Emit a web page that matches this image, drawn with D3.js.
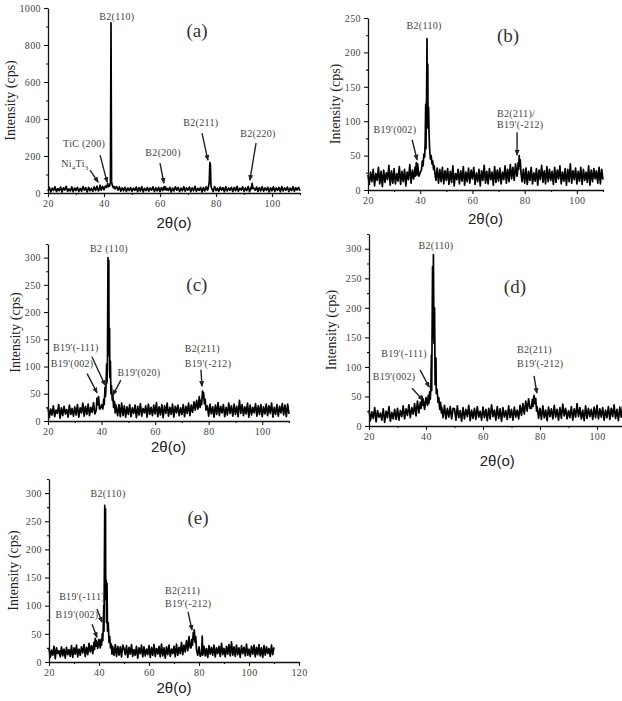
<!DOCTYPE html>
<html>
<head>
<meta charset="utf-8">
<script src="https://cdn.jsdelivr.net/npm/d3@7"></script>
<style>
  body { margin: 0; background: #fff; }
  .domain { stroke: #111; stroke-width: 1.3; }
  .tick line { stroke: #111; stroke-width: 1.1; }
  .note { font-family: "Liberation Serif", serif; font-size: 10px; fill: #444; letter-spacing: 0.3px; }
  .letter { font-family: "Liberation Serif", serif; font-size: 19px; fill: #333; }
  .ytitle { font-family: "Liberation Serif", serif; font-size: 14px; fill: #222; }
  .xtitle { font-family: "Liberation Sans", sans-serif; font-size: 15px; fill: #222; }
</style>
</head>
<body>
<svg id="chart" width="622" height="701"></svg>
<script>
"use strict";

// Sampling grid of the scans: 20 to 110 degrees, every 0.5 degree
var gridStart = 20, gridStep = 0.5;

// Tick labels
var xTicks = [20, 40, 60, 80, 100];
var xMinor = [30, 50, 70, 90, 110];
var xTicksE = [20, 40, 60, 80, 100, 120];
var xMinorE = [30, 50, 70, 90, 110];
var yTicksA = [0, 200, 400, 600, 800, 1000];
var yMinorA = [100, 300, 500, 700, 900];
var yTicksB = [0, 50, 100, 150, 200, 250];
var yMinorB = [25, 75, 125, 175, 225];
var yTicksC = [0, 50, 100, 150, 200, 250, 300];
var yMinorC = [25, 75, 125, 175, 225, 275, 325];

// Background counts (cps), one value per grid step
var noiseA = [
  10,30,6,26,14,34,8,24,12,32,5,28,16,36,9,22,11,33,7,27,
  13,31,8,25,10,35,15,29,6,30,12,26,9,33,14,37,11,28,16,36,
  18,38,14,34,20,40,17,36,22,35,15,33,10,28,12,31,8,27,13,30,
  9,26,14,32,7,29,11,34,6,25,13,30,10,27,15,33,8,28,12,31,
  7,29,13,35,9,24,14,31,6,27,11,33,16,30,8,26,12,34,10,28,
  15,32,7,28,12,36,9,25,14,30,6,29,11,33,16,27,10,31,8,35,
  13,26,9,32,15,29,7,34,11,27,14,31,8,30,12,36,10,25,16,33,
  9,28,13,35,7,30,11,26,15,32,8,29,12,34,10,27,14,31,6,28,
  12,33,9,27,14,30,7,35,11,28,15,32,8,26,13,34,10,29,16,31,
  12
];
var noiseB = [
  22,8,26,12,30,6,24,14,33,9,27,5,29,11,25,15,36,7,28,10,
  31,9,24,13,34,8,27,12,30,6,26,15,37,10,29,16,33,12,38,20,
  25,38,30,44,35,55,50,80,120,200,180,28,14,32,10,30,12,33,9,28,
  14,31,8,27,11,35,6,24,15,30,9,28,13,34,7,26,12,32,10,29,
  16,33,8,25,12,30,6,28,14,36,10,27,9,31,15,26,7,34,11,29,
  13,32,9,26,15,35,10,30,12,37,16,33,14,38,20,36,18,34,12,30,
  10,32,8,27,14,33,9,25,13,31,7,29,15,36,11,28,9,34,12,30,
  14,27,8,33,11,29,16,35,9,26,13,31,7,30,12,38,10,28,15,32,
  9,27,13,33,8,30,14,26,11,35,7,29,12,31,16,28,10,33,9,30,
  15
];
var noiseC = [
  25,6,22,11,28,8,20,14,30,5,24,10,27,13,21,7,29,12,23,9,
  26,11,30,7,24,15,33,9,27,12,31,10,25,16,34,13,28,18,36,22,
  30,20,36,25,45,40,60,100,300,160,80,26,10,30,8,33,10,28,7,26,
  12,30,8,24,14,29,6,27,11,32,9,23,15,28,7,31,12,25,10,29,
  13,34,8,26,11,30,6,28,14,33,9,25,12,31,7,27,15,29,10,24,
  12,30,8,27,14,33,10,29,16,35,20,38,22,45,25,40,18,32,11,28,
  9,31,13,26,7,29,12,34,10,27,15,30,8,25,11,33,14,28,9,31,
  12,27,8,38,14,30,10,26,13,33,7,29,11,25,15,32,9,28,12,30,
  8,26,13,31,10,28,14,33,7,25,12,30,9,27,15,32,11,29,8,31,
  13
];
var noiseD = [
  27,9,24,13,31,7,26,15,22,10,29,6,25,14,33,8,23,12,28,11,
  30,10,26,16,34,12,29,18,36,14,31,20,38,17,42,22,40,25,46,28,
  48,30,55,38,60,80,120,270,290,200,115,32,14,35,12,30,15,33,12,30,
  29,10,34,14,26,8,31,12,28,16,35,9,27,13,30,11,33,15,25,10,
  32,14,28,9,30,12,36,16,27,10,33,13,29,8,31,15,26,11,34,14,
  28,10,32,15,27,12,35,18,38,20,42,25,46,30,40,22,36,17,33,13,
  30,11,34,14,27,9,32,16,29,12,35,15,28,10,31,13,37,17,30,12,
  26,14,33,10,29,15,38,16,31,12,27,9,34,13,30,16,28,11,32,14,
  35,12,29,15,31,10,27,14,33,11,30,16,36,13,28,9,32,15,34,12,
  29
];
var noiseE = [
  24,8,21,12,28,6,25,15,20,9,27,11,23,7,26,13,22,10,29,8,
  25,14,30,9,23,12,27,16,31,10,26,13,33,18,29,15,35,20,38,24,
  40,25,45,35,50,70,278,145,140,60,70,26,12,31,10,28,12,27,9,30,
  24,13,29,8,26,14,31,10,22,12,28,7,25,15,30,9,27,11,23,13,
  29,8,26,12,31,10,24,14,28,9,32,11,25,7,27,13,30,10,23,15,
  28,9,32,12,26,15,35,13,30,18,38,20,45,25,42,22,36,16,30,12,
  27,10,31,13,28,11,24,8,29,14,26,12,30,9,25,15,28,10,33,13,
  24,9,28,14,31,11,36,12,27,10,30,13,25,8,29,15,26,11,32,12,
  23,10,28,14,30,9,26,13,31,11,25,8,29,12,27,15,24,10,30,13,
  26
];

// Peak regions, [2theta, cps], finer than the grid
var peaksA = [
  [[38.3,20],[38.6,42],[38.9,18]],
  [[41.0,30],[41.3,52],[41.6,35],[42.0,38],[42.3,60],[42.5,920],[42.7,60],[43.0,40],[43.4,28]],
  [[61.7,18],[62.0,32],[62.3,16]],
  [[77.2,25],[77.6,60],[77.8,165],[78.0,150],[78.2,40],[78.5,22]],
  [[92.6,22],[92.9,52],[93.2,25]]
];
var peaksB = [
  [[38.2,20],[38.5,40],[38.8,22]],
  [[40.5,30],[40.8,42],[41.1,35],[41.4,52],[41.7,48],[41.9,70],[42.1,125],[42.2,60],[42.4,120],[42.6,220],
   [42.7,100],[42.9,183],[43.0,90],[43.2,120],[43.4,80],[43.6,60],[43.9,45],[44.2,50],[44.5,38],[44.8,42],[45.1,30],[45.4,35]],
  [[77.2,22],[77.5,40],[77.7,30],[77.9,50],[78.1,35],[78.3,44],[78.6,25]]
];
var peaksC = [
  [[38.0,20],[38.3,42],[38.6,30],[38.9,45],[39.2,22]],
  [[40.5,22],[40.8,40],[41.0,30],[41.3,62],[41.5,45],[41.7,68],[41.9,105],[42.0,70],[42.2,95],[42.4,300],
   [42.5,180],[42.7,295],[42.8,120],[43.0,170],[43.1,80],[43.3,110],[43.5,50],[43.7,65],[44.0,38],[44.2,48],
   [44.5,25],[44.8,36],[45.1,15],[45.3,30]],
  [[76.8,25],[77.1,38],[77.4,30],[77.7,55],[77.9,42],[78.1,52],[78.4,32],[78.7,40],[79.0,20]]
];
var peaksD = [
  [[38.3,30],[38.6,50],[38.9,35]],
  [[40.5,35],[40.8,52],[41.0,38],[41.3,58],[41.5,45],[41.7,65],[41.9,120],[42.0,60],[42.3,270],[42.4,150],
   [42.6,290],[42.8,140],[43.0,200],[43.2,70],[43.5,115],[43.6,55],[43.9,62],[44.2,40],[44.5,48],[44.8,28],
   [45.1,40],[45.4,22]],
  [[77.0,30],[77.3,45],[77.6,33],[77.9,52],[78.2,38],[78.5,47],[78.8,25]]
];
var peaksE = [
  [[38.2,22],[38.5,42],[38.8,28]],
  [[40.5,25],[40.8,40],[41.0,30],[41.3,50],[41.5,38],[41.7,60],[41.9,100],[42.0,55],[42.3,278],[42.4,120],
   [42.6,272],[42.7,110],[42.9,145],[43.0,70],[43.2,140],[43.4,55],[43.7,70],[44.0,35],[44.3,45],[44.6,25],
   [44.9,32],[45.2,14],[45.4,28]],
  [[76.8,25],[77.1,40],[77.4,30],[77.7,52],[77.9,40],[78.1,57],[78.4,35],[78.7,45],[79.0,22]],
  [[81.0,15],[81.3,46],[81.5,12]]
];

// Peak labels (anchored at [2theta, cps]) and arrows [from, to]
var labelsA = [
  { t: "B2(110)", a: 44.6, v: 935 },
  { t: "TiC (200)", a: 32.9, v: 249 },
  { t: "Ni<tspan font-size='7' dy='3'>4</tspan><tspan dy='-3'>Ti</tspan><tspan font-size='7' dy='3'>3</tspan>", a: 29.6, v: 140 },
  { t: "B2(200)", a: 61.1, v: 200 },
  { t: "B2(211)", a: 74.6, v: 362 },
  { t: "B2(220)", a: 95, v: 302 }
];
var arrowsA = [[38.6,205,41.1,59],[35,124,37.9,59],[60,162,61.4,54],[75,324,77.1,178],[94.3,270,92.1,70]];
var labelsB = [
  { t: "B2(110)", a: 41.5, v: 234 },
  { t: "B19'(002)", a: 30.3, v: 83 },
  { t: "B2(211)/", a: 69.4, v: 106, start: true },
  { t: "B19'(-212)", a: 69.4, v: 90, start: true }
];
var arrowsB = [[36.9,73,38.8,44],[77.1,84,77.1,51]];
var labelsC = [
  { t: "B2 (110)", a: 42.8, v: 311 },
  { t: "B19'(-111)", a: 30.4, v: 129 },
  { t: "B19'(002)", a: 29, v: 99 },
  { t: "B19'(020)", a: 54, v: 83 },
  { t: "B2(211)", a: 71.1, v: 127, start: true },
  { t: "B19'(-212)", a: 71.1, v: 99, start: true }
];
var arrowsC = [[34.6,87,38.3,52],[36.4,118,41.3,66],[47.2,75,44.3,48],[77.1,94,77.5,64]];
var labelsD = [
  { t: "B2(110)", a: 43.5, v: 300 },
  { t: "B19'(-111)", a: 32.3, v: 117 },
  { t: "B19'(002)", a: 28.8, v: 78 },
  { t: "B2(211)", a: 71.9, v: 124, start: true },
  { t: "B19'(-212)", a: 71.9, v: 100, start: true }
];
var arrowsD = [[35.1,64,38.9,44],[37.9,95,41.1,66],[77.9,85,78.9,56]];
var labelsE = [
  { t: "B2(110)", a: 43.6, v: 293 },
  { t: "B19'(-111)", a: 33.2, v: 110 },
  { t: "B19'(002)", a: 31.2, v: 78 },
  { t: "B2(211)", a: 66.4, v: 121, start: true },
  { t: "B19'(-212)", a: 66.4, v: 98, start: true }
];
var arrowsE = [[37.2,67,39.2,44],[39.2,94,41.2,71],[75.6,89,77.2,57]];

// Panel layout
var panels = [
  { name: "(a)", noise: noiseA, peaks: peaksA, labels: labelsA, arrows: arrowsA, letter: [73.2, 843],
    xDomain: [20, 110], xRange: [48, 300], yDomain: [0, 1000], yRange: [193, 8],
    xTicks: xTicks, xMinor: xMinor, yTicks: yTicksA, yMinor: yMinorA, yTitleX: 10, xTitleY: 228 },
  { name: "(b)", noise: noiseB, peaks: peaksB, labels: labelsB, arrows: arrowsB, letter: [73.6, 215],
    xDomain: [20, 110], xRange: [368, 603], yDomain: [0, 250], yRange: [190, 18],
    xTicks: xTicks, xMinor: xMinor, yTicks: yTicksB, yMinor: yMinorB, yTitleX: 335, xTitleY: 224 },
  { name: "(c)", noise: noiseC, peaks: peaksC, labels: labelsC, arrows: arrowsC, letter: [75.6, 238],
    xDomain: [20, 110], xRange: [48, 289], yDomain: [0, 325], yRange: [421, 244],
    xTicks: xTicks, xMinor: xMinor, yTicks: yTicksC, yMinor: yMinorC, yTitleX: 15, xTitleY: 452 },
  { name: "(d)", noise: noiseD, peaks: peaksD, labels: labelsD, arrows: arrowsD, letter: [71.2, 225],
    xDomain: [20, 110], xRange: [369, 625.5], yDomain: [0, 325], yRange: [426, 234],
    xTicks: xTicks, xMinor: xMinor, yTicks: yTicksC, yMinor: yMinorC, yTitleX: 331, xTitleY: 466 },
  { name: "(e)", noise: noiseE, peaks: peaksE, labels: labelsE, arrows: arrowsE, letter: [79.6, 245],
    xDomain: [20, 120], xRange: [49, 299], yDomain: [0, 325], yRange: [662, 479],
    xTicks: xTicksE, xMinor: xMinorE, yTicks: yTicksC, yMinor: yMinorC, yTitleX: 13, xTitleY: 693 }
];

// Merge the background grid with the finer peak samples
function buildSeries(noise, peaks) {
  var pts = noise.map(function (v, i) { return [gridStart + i * gridStep, v]; });
  peaks.forEach(function (seg) {
    var lo = seg[0][0], hi = seg[seg.length - 1][0];
    pts = pts.filter(function (p) { return p[0] < lo || p[0] > hi; }).concat(seg);
  });
  return pts.sort(function (a, b) { return a[0] - b[0]; });
}

// serif, grey tick labels like the original figure
function styleAxis(sel) {
  sel.attr("font-family", "Liberation Serif, serif").attr("font-size", 10);
  sel.selectAll(".tick text").attr("fill", "#444").style("letter-spacing", "0.4px");
}

var svg = d3.select("#chart");

svg.append("defs").append("marker")
   .attr("id", "arrow")
   .attr("markerUnits", "userSpaceOnUse")
   .attr("markerWidth", 6).attr("markerHeight", 6)
   .attr("refX", 5).attr("refY", 3)
   .attr("orient", "auto")
   .append("path")
   .attr("d", "M0,0.5 L6,3 L0,5.5 z")
   .attr("fill", "#222");

panels.forEach(function (p) {
  var x = d3.scaleLinear().domain(p.xDomain).range(p.xRange);
  var y = d3.scaleLinear().domain(p.yDomain).range(p.yRange);
  var g = svg.append("g");

  // the scan
  var line = d3.line().x(function (d) { return x(d[0]); }).y(function (d) { return y(d[1]); });
  g.append("path")
   .datum(buildSeries(p.noise, p.peaks))
   .attr("d", line)
   .attr("fill", "none")
   .attr("stroke", "#000")
   .attr("stroke-width", 1.7)
   .attr("stroke-linejoin", "round");

  // axes: major ticks with labels, minor ticks without
  var y0 = p.yRange[0], x0 = p.xRange[0];
  g.append("g")
   .attr("transform", "translate(0," + y0 + ")")
   .call(d3.axisBottom(x).tickValues(p.xTicks).tickFormat(d3.format("d")).tickSize(4).tickSizeOuter(0).tickPadding(3))
   .call(styleAxis);
  g.append("g")
   .attr("transform", "translate(0," + y0 + ")")
   .call(d3.axisBottom(x).tickValues(p.xMinor).tickSize(2).tickFormat(""))
   .select(".domain").remove();
  g.append("g")
   .attr("transform", "translate(" + x0 + ",0)")
   .call(d3.axisLeft(y).tickValues(p.yTicks).tickFormat(d3.format("d")).tickSize(4).tickSizeOuter(0).tickPadding(3))
   .call(styleAxis);
  g.append("g")
   .attr("transform", "translate(" + x0 + ",0)")
   .call(d3.axisLeft(y).tickValues(p.yMinor).tickSize(2).tickFormat(""))
   .select(".domain").remove();

  // titles
  g.append("text")
   .attr("class", "ytitle")
   .attr("transform", "translate(" + p.yTitleX + "," + ((p.yRange[0] + p.yRange[1]) / 2) + ") rotate(-90)")
   .attr("text-anchor", "middle")
   .attr("dy", "0.35em")
   .text("Intensity (cps)");
  g.append("text")
   .attr("class", "xtitle")
   .attr("x", (x(20) + x(p.xDomain[1])) / 2)
   .attr("y", p.xTitleY)
   .attr("text-anchor", "middle")
   .text("2\u03B8(o)");

  g.append("text")
   .attr("class", "letter")
   .attr("x", x(p.letter[0]))
   .attr("y", y(p.letter[1]))
   .attr("text-anchor", "middle")
   .text(p.name);

  // peak labels and arrows
  g.selectAll("text.note")
   .data(p.labels)
   .enter()
   .append("text")
   .attr("class", "note")
   .attr("x", function (d) { return x(d.a); })
   .attr("y", function (d) { return y(d.v); })
   .attr("text-anchor", function (d) { return d.start ? "start" : "middle"; })
   .html(function (d) { return d.t; });

  g.selectAll("line.arrow")
   .data(p.arrows)
   .enter()
   .append("line")
   .attr("class", "arrow")
   .attr("x1", function (d) { return x(d[0]); })
   .attr("y1", function (d) { return y(d[1]); })
   .attr("x2", function (d) { return x(d[2]); })
   .attr("y2", function (d) { return y(d[3]); })
   .attr("stroke", "#222")
   .attr("stroke-width", 1.4)
   .attr("marker-end", "url(#arrow)");
});
</script>
</body>
</html>
